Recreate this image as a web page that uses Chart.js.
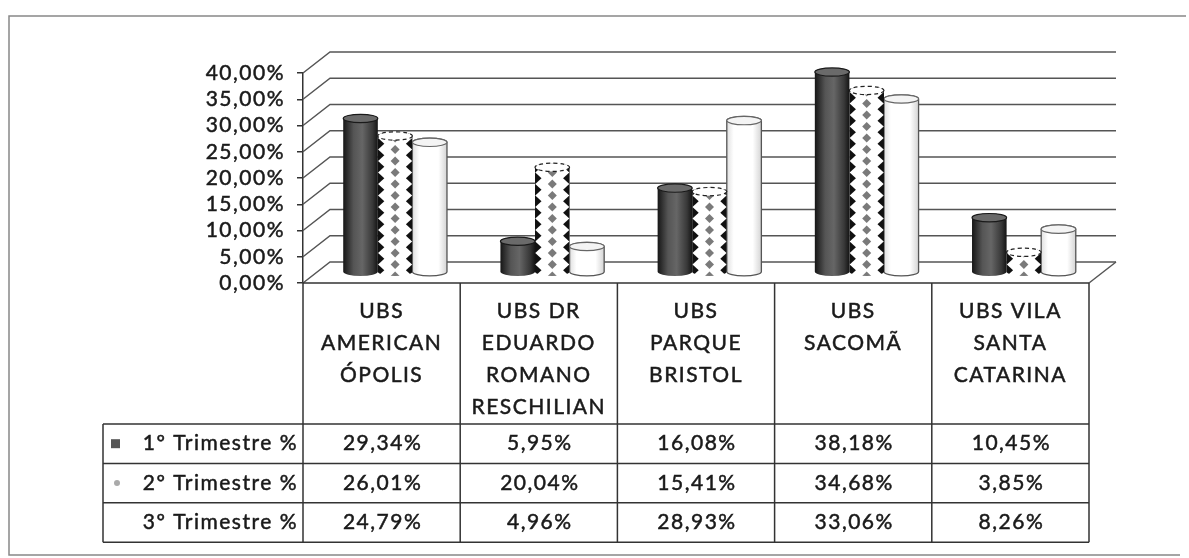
<!DOCTYPE html>
<html><head><meta charset="utf-8">
<script src="https://cdn.jsdelivr.net/npm/chart.js@4/dist/chart.umd.min.js"></script>
<style>html,body{margin:0;padding:0;background:#fff;}canvas{display:block;}</style>
</head><body>
<canvas id="c" width="1189" height="558"></canvas>
<script>
// ---- data ----
const categories = [
  ['UBS', 'AMERICAN', 'ÓPOLIS'],
  ['UBS DR', 'EDUARDO', 'ROMANO', 'RESCHILIAN'],
  ['UBS', 'PARQUE', 'BRISTOL'],
  ['UBS', 'SACOMÃ'],
  ['UBS VILA', 'SANTA', 'CATARINA']
];
const seriesNames = ['1º Trimestre %', '2º Trimestre %', '3º Trimestre %'];
const trimestre1 = [29.34, 5.95, 16.08, 38.18, 10.45];
const trimestre2 = [26.01, 20.04, 15.41, 34.68, 3.85];
const trimestre3 = [24.79, 4.96, 28.93, 33.06, 8.26];
const yTickLabels = ['0,00%', '5,00%', '10,00%', '15,00%', '20,00%', '25,00%', '30,00%', '35,00%', '40,00%'];

// ---- style ----
const FONT = 'Lato, "Open Sans", sans-serif';
const LS = '1.5px';
const TXT = '#1a1a1a';
const DX = 27, DY = -21;
const fmt = v => v.toFixed(2).replace('.', ',') + '%';

const lsPlugin = {
  id: 'ls',
  beforeLayout(c) { c.ctx.letterSpacing = LS; },
  beforeDraw(c) { c.ctx.letterSpacing = LS; }
};

const wallPlugin = {
  id: 'wall',
  beforeDatasetsDraw(chart) {
    const { ctx, chartArea: a, scales: { y } } = chart;
    ctx.save();
    ctx.strokeStyle = '#555';
    ctx.lineWidth = 1.5;
    y.ticks.forEach(t => {
      const py = y.getPixelForValue(t.value);
      ctx.beginPath();
      ctx.moveTo(a.left, py);
      ctx.lineTo(a.left + DX, py + DY);
      ctx.lineTo(a.right + DX, py + DY);
      ctx.stroke();
    });
    ctx.beginPath();
    ctx.moveTo(a.right, a.bottom);
    ctx.lineTo(a.right + DX, a.bottom + DY);
    ctx.stroke();
    ctx.restore();
  }
};

function bodyPath(ctx, cx, top, base, w, ry) {
  const l = cx - w / 2, r = cx + w / 2;
  ctx.beginPath();
  ctx.moveTo(l, top);
  ctx.lineTo(l, base);
  ctx.ellipse(cx, base, w / 2, ry, 0, Math.PI, 0, true);
  ctx.lineTo(r, top);
  ctx.ellipse(cx, top, w / 2, ry, 0, 0, Math.PI, true);
  ctx.closePath();
}

function drawCylinder(ctx, idx, cx, top, base, w) {
  const ry = Math.max(3, w * 0.12);
  const l = cx - w / 2, r = cx + w / 2;
  ctx.save();
  if (idx === 0) {
    const g = ctx.createLinearGradient(l, 0, r, 0);
    g.addColorStop(0, '#161616');
    g.addColorStop(0.3, '#555');
    g.addColorStop(0.55, '#666');
    g.addColorStop(0.85, '#383838');
    g.addColorStop(1, '#141414');
    bodyPath(ctx, cx, top, base, w, ry);
    ctx.fillStyle = g; ctx.fill();
    ctx.beginPath(); ctx.ellipse(cx, top, w / 2, ry, 0, 0, Math.PI * 2);
    ctx.fillStyle = '#6a6a6a'; ctx.fill();
    ctx.strokeStyle = '#1a1a1a'; ctx.lineWidth = 1.2; ctx.stroke();
  } else if (idx === 1) {
    bodyPath(ctx, cx, top, base, w, ry);
    ctx.fillStyle = '#fff'; ctx.fill();
    ctx.save();
    bodyPath(ctx, cx, top, base, w, ry);
    ctx.clip();
    const step = 11.5;
    for (let yy = base + ry; yy > top - step; yy -= step) {
      ctx.fillStyle = '#7a7a7a';
      ctx.beginPath();
      ctx.moveTo(cx, yy - 4.5); ctx.lineTo(cx + 4.5, yy); ctx.lineTo(cx, yy + 4.5); ctx.lineTo(cx - 4.5, yy); ctx.closePath();
      ctx.fill();
      const y2 = yy - step / 2;
      ctx.fillStyle = '#111';
      [l, r].forEach(ex => {
        ctx.beginPath();
        ctx.moveTo(ex, y2 - 6); ctx.lineTo(ex + 6.5, y2); ctx.lineTo(ex, y2 + 6); ctx.lineTo(ex - 6.5, y2); ctx.closePath();
        ctx.fill();
      });
    }
    ctx.restore();
    ctx.beginPath(); ctx.ellipse(cx, top, w / 2, ry, 0, 0, Math.PI * 2);
    ctx.fillStyle = '#fff'; ctx.fill();
    ctx.setLineDash([4, 3]);
    ctx.strokeStyle = '#222'; ctx.lineWidth = 1.2; ctx.stroke();
  } else {
    const g = ctx.createLinearGradient(l, 0, r, 0);
    g.addColorStop(0, '#e0e0e0');
    g.addColorStop(0.2, '#fff');
    g.addColorStop(0.75, '#fff');
    g.addColorStop(1, '#d4d4d4');
    bodyPath(ctx, cx, top, base, w, ry);
    ctx.fillStyle = g; ctx.fill();
    ctx.strokeStyle = '#555'; ctx.lineWidth = 1.3; ctx.stroke();
    ctx.beginPath(); ctx.ellipse(cx, top, w / 2, ry, 0, 0, Math.PI * 2);
    ctx.fillStyle = '#f4f4f4'; ctx.fill();
    ctx.strokeStyle = '#666'; ctx.lineWidth = 1.2; ctx.stroke();
  }
  ctx.restore();
}

const cylPlugin = {
  id: 'cyl',
  beforeDatasetDraw(chart, args) {
    const ctx = chart.ctx;
    args.meta.data.forEach(el => {
      drawCylinder(ctx, args.index, el.x + DX / 2, el.y + DY / 2, el.base + DY / 2, el.width);
    });
    return false;
  }
};

const tablePlugin = {
  id: 'table',
  afterDraw(chart) {
    const { ctx, chartArea: a, scales: { x } } = chart;
    const series = [trimestre1, trimestre2, trimestre3];
    const tableLeft = 103;
    const headTop = a.bottom;
    const headBottom = x.bottom;
    const rowH = 39.4;
    const colW = (a.right - a.left) / categories.length;
    ctx.save();
    ctx.letterSpacing = LS;
    ctx.strokeStyle = '#333';
    ctx.lineWidth = 1.5;
    ctx.beginPath();
    ctx.moveTo(a.left, headTop); ctx.lineTo(a.right, headTop);
    for (let i = 0; i <= series.length; i++) {
      const yy = headBottom + i * rowH;
      ctx.moveTo(tableLeft, yy); ctx.lineTo(a.right, yy);
    }
    for (let j = 0; j <= categories.length; j++) {
      const xx = a.left + j * colW;
      ctx.moveTo(xx, headTop); ctx.lineTo(xx, headBottom + series.length * rowH);
    }
    ctx.moveTo(tableLeft, headBottom); ctx.lineTo(tableLeft, headBottom + series.length * rowH);
    ctx.stroke();
    // text
    ctx.font = '21px ' + FONT;
    ctx.fillStyle = TXT;
    ctx.strokeStyle = TXT;
    ctx.lineWidth = 0.5;
    ctx.textBaseline = 'middle';
    const put = (s, px, py) => { ctx.fillText(s, px, py); ctx.strokeText(s, px, py); };
    series.forEach((vals, i) => {
      const cy = headBottom + (i + 0.5) * rowH;
      ctx.textAlign = 'right';
      put(seriesNames[i], a.left - 5, cy);
      ctx.textAlign = 'center';
      vals.forEach((v, j) => put(fmt(v), x.getPixelForValue(j) + 1, cy));
    });
    // legend keys
    const k1 = headBottom + 0.5 * rowH, k2 = headBottom + 1.5 * rowH;
    ctx.fillStyle = '#555';
    ctx.fillRect(111, k1 - 4.5, 9, 9);
    ctx.fillStyle = '#aaa';
    ctx.beginPath(); ctx.arc(117, k2, 3, 0, Math.PI * 2); ctx.fill();
    // outer frame
    ctx.strokeStyle = '#888';
    ctx.lineWidth = 1.5;
    ctx.beginPath();
    ctx.moveTo(1186, 16); ctx.lineTo(9, 16); ctx.lineTo(9, 555); ctx.lineTo(1180, 555);
    ctx.stroke();
    ctx.restore();
  }
};

new Chart(document.getElementById('c'), {
  type: 'bar',
  data: {
    labels: categories,
    datasets: [
      { label: seriesNames[0], data: trimestre1, backgroundColor: '#555' },
      { label: seriesNames[1], data: trimestre2, backgroundColor: '#999' },
      { label: seriesNames[2], data: trimestre3, backgroundColor: '#fff' }
    ]
  },
  options: {
    responsive: false,
    devicePixelRatio: 1,
    animation: false,
    layout: { padding: { top: 73, left: 0, right: 100, bottom: 134 } },
    datasets: { bar: { categoryPercentage: 0.66, barPercentage: 1.0 } },
    plugins: { legend: { display: false }, tooltip: { enabled: false } },
    scales: {
      x: {
        grid: { display: false, drawTicks: false },
        border: { display: false },
        ticks: { color: TXT, textStrokeColor: TXT, textStrokeWidth: 0.5, padding: 12, maxRotation: 0, autoSkip: false, font: { family: FONT, size: 21, lineHeight: 32 / 21 } },
        afterFit(s) { s.height = 141; }
      },
      y: {
        min: 0, max: 40,
        grid: { drawOnChartArea: false, drawTicks: true, tickLength: 6, color: '#333', lineWidth: 1.5 },
        border: { display: true, color: '#333', width: 1.5 },
        ticks: {
          stepSize: 5, autoSkip: false, color: TXT, textStrokeColor: TXT, textStrokeWidth: 0.5, padding: 12,
          font: { family: FONT, size: 21, lineHeight: 1 },
          callback: (v, i) => yTickLabels[i]
        },
        afterFit(s) { s.width = 303; }
      }
    }
  },
  plugins: [lsPlugin, wallPlugin, cylPlugin, tablePlugin]
});
</script>
</body></html>
